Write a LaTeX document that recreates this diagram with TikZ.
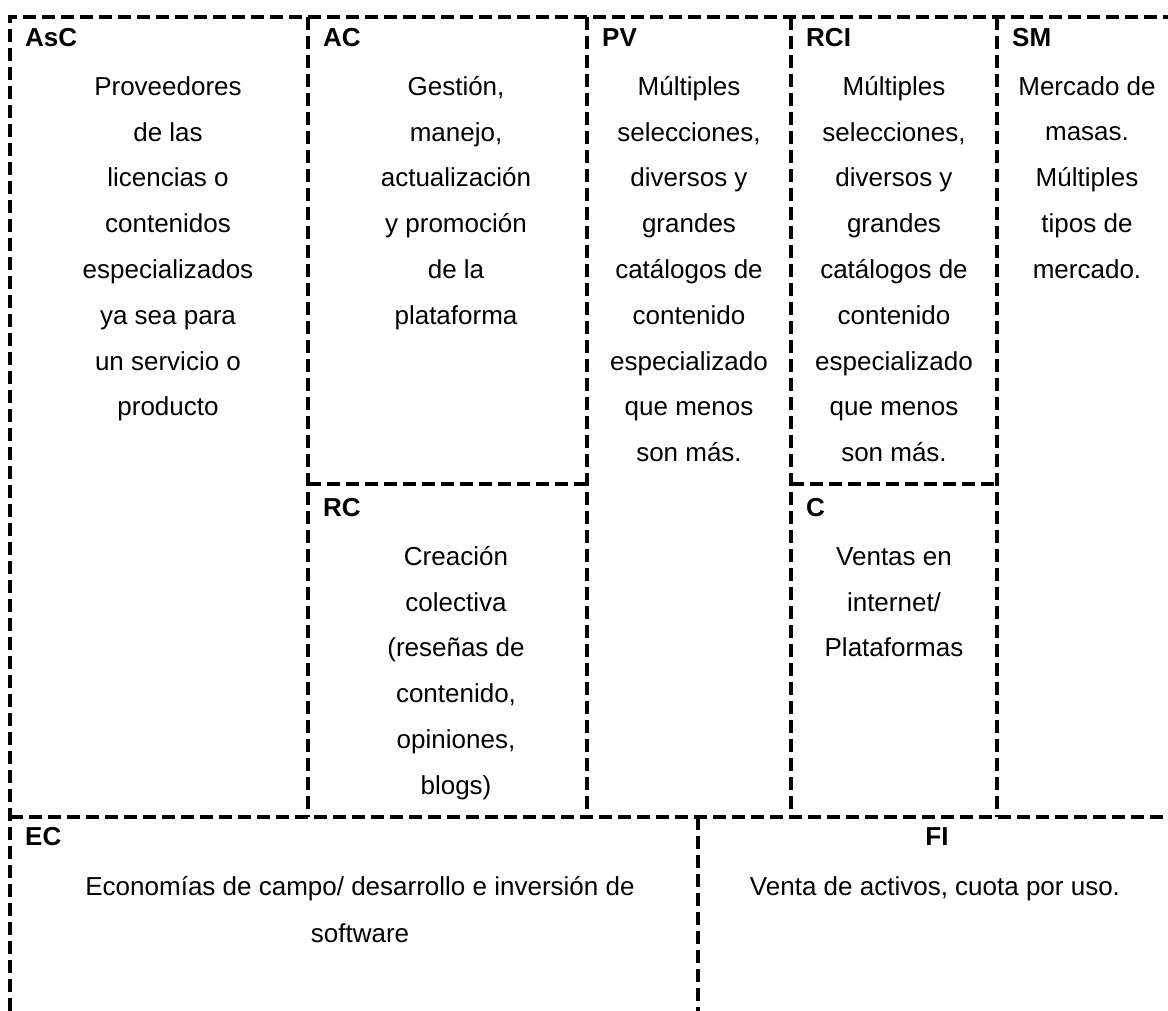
\documentclass[tikz,border=0pt]{standalone}
\usepackage{fontspec}
\setmainfont{Liberation Sans}
\usepackage{tikz}

% first line height of a block, so the north anchor sits 22pt above its baseline
\newcommand{\cellstrut}{\rule{0pt}{22pt}}

\begin{document}
\begin{tikzpicture}[x=1pt, y=-1pt,
    grid/.style={line width=4.5pt, dash pattern=on 13pt off 6pt},
    head/.style={anchor=base west, inner sep=0pt, font=\fontsize{26}{30}\selectfont\bfseries},
    body/.style={anchor=north, inner sep=0pt, align=center, font=\fontsize{26}{45.8}\selectfont}]

    \useasboundingbox (0,0) rectangle (1168,1011);

    % Draw table lines
    \draw[grid] (10,1011) -- (10,17) -- (1168,17);
    \draw[grid] (308,17) -- (308,817);
    \draw[grid] (587,17) -- (587,817);
    \draw[grid] (791,17) -- (791,817);
    \draw[grid] (997,17) -- (997,817);
    \draw[grid] (308,484) -- (587,484);
    \draw[grid] (791,484) -- (997,484);
    \draw[grid] (10,817) -- (1168,817);
    \draw[grid] (698,817) -- (698,1011);

    % Draw block titles
    \node[head] (asc) at (25,47) {AsC};
    \node[head] (ac) at (323,47) {AC};
    \node[head] (pv) at (602,47) {PV};
    \node[head] (rci) at (806,47) {RCI};
    \node[head] (sm) at (1012,47) {SM};
    \node[head] (rc) at (323,516) {RC};
    \node[head] (c) at (806,516) {C};
    \node[head] (ec) at (25,845) {EC};
    \node[head, anchor=base] (fi) at (937,845) {FI};

    % Draw block contents (first baseline = y + 22)
    \node[body] (asctext) at (168,73) {\cellstrut Proveedores\\de las\\licencias o\\contenidos\\especializados\\ya sea para\\un servicio o\\producto};
    \node[body] (actext) at (456,73) {\cellstrut Gestión,\\manejo,\\actualización\\y promoción\\de la\\plataforma};
    \node[body] (pvtext) at (689,73) {\cellstrut Múltiples\\selecciones,\\diversos y\\grandes\\catálogos de\\contenido\\especializado\\que menos\\son más.};
    \node[body] (rcitext) at (894,73) {\cellstrut Múltiples\\selecciones,\\diversos y\\grandes\\catálogos de\\contenido\\especializado\\que menos\\son más.};
    \node[body] (smtext) at (1087,73) {\cellstrut Mercado de\\masas.\\Múltiples\\tipos de\\mercado.};
    \node[body] (rctext) at (456,543) {\cellstrut Creación\\colectiva\\(reseñas de\\contenido,\\opiniones,\\blogs)};
    \node[body] (ctext) at (894,543) {\cellstrut Ventas en\\internet/\\Plataformas};
    \node[body, font=\fontsize{26}{47}\selectfont] (ectext) at (360,873) {\cellstrut Economías de campo/ desarrollo e inversión de\\software};
    \node[body] (fitext) at (935,873) {\cellstrut Venta de activos, cuota por uso.};

\end{tikzpicture}
\end{document}
